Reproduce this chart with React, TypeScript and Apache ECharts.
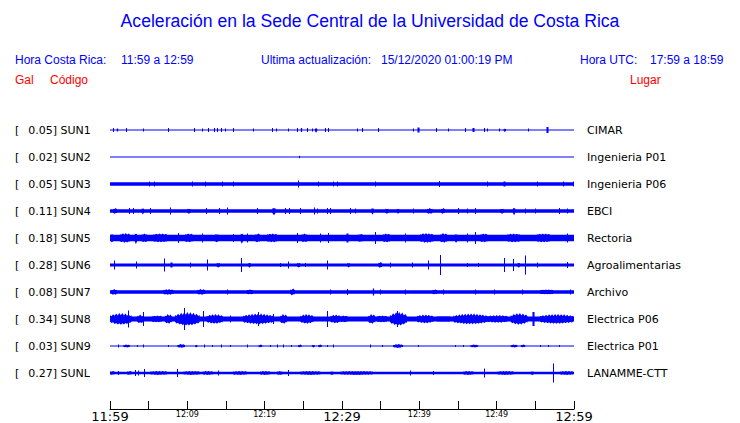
import React, { useEffect, useRef } from "react";
import * as echarts from "echarts";

// ---- data ----
const STATIONS = ["SUN1", "SUN2", "SUN3", "SUN4", "SUN5", "SUN6", "SUN7", "SUN8", "SUN9", "SUNL"];
const PEAKS = ["0.05", "0.02", "0.05", "0.11", "0.18", "0.28", "0.08", "0.34", "0.03", "0.27"];
const PLACES = [
  "CIMAR", "Ingenieria P01", "Ingenieria P06", "EBCI", "Rectoria",
  "Agroalimentarias", "Archivo", "Electrica P06", "Electrica P01", "LANAMME-CTT",
];
const TICK_LABELS = ["11:59", "12:09", "12:19", "12:29", "12:39", "12:49", "12:59"];
// background noise half-amplitude of each trace (1/27 of a trace row)
const BASE_AMP = [0.5, 0.5, 1.8, 1.8, 3.2, 1.6, 1.8, 2.4, 0.5, 1.3];
// events: [start minute, end minute, half-amplitude]
const SUN1_EV = [[0.4,0.4,2],[0.9,1.0,1.5],[2.1,2.1,2],[4.3,4.3,1.5],[7.5,7.5,2],[10.9,10.9,2],[11.9,11.9,1.5],[12.7,12.7,2],[13.5,13.5,2],[13.8,13.8,2],[14.3,14.3,2],[14.9,14.9,1.5],[15.9,15.9,2],[18.5,18.5,1.5],[21.0,21.0,2],[21.5,21.5,1.5],[23.0,23.0,1.5],[24.2,24.2,2],[24.6,24.7,2],[25.5,25.5,2],[26.1,26.1,1.5],[26.5,26.8,3],[27.8,27.8,2],[28.2,28.2,2],[32.0,32.0,1.5],[32.6,32.6,2],[34.7,34.7,2],[39.2,39.2,1.5],[39.7,39.9,2.5],[42.2,42.2,2],[43.7,43.7,1.5],[45.9,45.9,2],[46.8,47.0,2],[48.3,48.3,2],[48.8,48.8,1.5],[50.3,50.3,1.5],[50.9,51.2,2],[54.0,54.0,1.5],[56.4,56.6,3]];
const SUN2_EV = [[24.5,24.5,1.2]];
const SUN3_EV = [[5.1,5.1,2.5],[5.7,5.7,2.5],[10.6,10.6,2.5],[12.3,12.3,2.5],[14.5,14.5,2.5],[15.9,15.9,2.5],[24.3,24.3,3.5],[26.9,26.9,2.5],[28.9,28.9,2.5],[29.4,29.4,2.5],[34.3,34.3,2.5],[42.6,42.6,3],[48.8,48.8,2.5],[50.8,51.0,2.5],[55.2,55.2,2.5],[58.6,58.6,2.5],[59.9,59.9,2.5]];
const SUN4_EV = [[0.4,0.9,3],[2.5,2.5,3],[3.0,3.0,3],[4.1,4.4,3.5],[5.2,5.2,3],[7.8,7.8,3.5],[10.0,10.4,3],[12.4,12.4,3],[14.1,14.1,3],[15.1,15.1,3.5],[19.0,19.0,3],[21.0,21.4,4.5],[22.6,22.6,3],[23.2,23.2,3],[24.6,24.6,3],[26.4,26.4,3.5],[26.8,26.8,2.5],[28.1,28.1,3],[28.5,28.5,3],[31.0,31.0,3],[31.7,31.7,2.5],[33.8,34.1,4],[35.6,36.0,3],[37.1,37.4,3],[39.2,39.2,2.5],[41.0,41.7,3],[42.8,43.3,3],[45.0,45.0,3],[46.2,46.2,2.5],[47.2,47.2,3],[50.5,50.9,3],[52.1,52.4,4.5],[53.7,53.7,2.5],[54.9,54.9,2.5],[58.0,58.0,3],[59.1,59.1,2.5]];
const SUN5_EV = [[0.1,0.4,4.5],[1.3,2.6,5],[3.2,3.5,6.5],[4.1,4.8,4.5],[5.6,7.4,4.5],[8.8,8.8,5],[9.7,10.7,4.5],[11.9,11.9,4.5],[13.6,14.0,4.5],[15.9,15.9,4],[16.9,17.2,6],[17.7,17.7,4.5],[18.8,19.4,4.5],[20.3,21.6,4.5],[24.2,24.2,5],[24.8,25.5,4.5],[27.2,27.2,4.5],[28.2,28.2,5],[30.6,30.8,4.5],[32.1,32.7,4],[34.3,34.3,6],[35.3,36.2,4.5],[38.2,38.2,4.5],[40.1,41.8,5],[42.7,43.6,5],[44.6,44.9,5],[46.2,46.2,4.5],[47.2,47.2,6],[47.9,48.8,4.5],[51.4,53.0,4.5],[55.2,56.9,4.5],[59.1,59.1,4.5]];
const SUN6_EV = [[0.5,0.5,4.5],[3.3,3.3,3.5],[7.0,7.0,6.5],[7.8,8.0,2.5],[10.3,10.3,2.5],[12.5,12.5,5.5],[13.8,14.2,2.5],[17.0,17.0,7],[17.9,18.2,3],[22.0,22.0,2],[23.0,23.0,3.5],[24.2,24.6,2.5],[25.2,25.2,2],[28.1,28.1,4.5],[30.7,31.0,2.5],[34.7,35.2,3],[36.2,36.2,2.5],[39.0,39.0,2.5],[41.1,41.1,4.5],[42.7,42.7,10],[46.2,46.2,2],[47.6,47.6,2],[51.0,51.0,7],[52.1,52.1,6],[52.7,53.0,3],[53.7,53.7,9.5],[55.2,55.2,2.5],[59.1,59.1,3]];
const SUN7_EV = [[0.2,0.9,3],[6.9,8.2,3],[11.3,12.3,3],[15.1,15.1,2.5],[17.7,18.5,2.5],[23.3,23.9,3.5],[28.5,28.5,2.5],[30.7,30.7,3],[33.9,34.0,3.5],[34.9,34.9,2.5],[38.2,38.2,2.5],[41.7,42.3,2.5],[43.1,43.1,2.5],[47.2,47.2,2.5],[49.6,49.6,2.5],[53.3,53.3,2.5],[55.6,57.3,2.5],[59.5,59.5,2.5]];
const SUN8_EV = [[0.0,2.8,6],[2.3,2.3,8.5],[3.5,4.3,4.5],[4.3,4.3,7],[5.4,6.7,3.5],[7.1,8.0,5],[8.4,11.6,7],[9.6,9.6,11],[12.0,12.0,8],[12.5,14.6,5],[15.5,15.5,3.5],[17.2,21.1,5.5],[19.2,19.2,7],[21.1,21.1,5],[22.0,22.9,5],[24.6,26.3,5],[28.1,28.1,8],[28.5,29.8,4.5],[29.8,30.7,3.5],[33.4,34.3,5],[34.5,35.8,3.5],[36.2,38.4,7],[37.1,37.1,8],[39.7,41.8,4.5],[42.3,44.0,2.5],[44.4,48.8,5.5],[48.8,51.4,4],[51.8,54.0,6],[54.6,54.8,7],[55.6,59.9,5]];
const SUN9_EV = [[1.0,1.0,1.5],[1.7,2.6,1.5],[3.5,3.5,1],[4.3,4.3,1.5],[7.5,7.5,1],[8.7,9.7,2],[11.0,11.3,1.5],[12.2,12.2,1.5],[13.2,13.2,1],[14.4,14.4,1.5],[15.5,15.5,1],[17.7,17.7,1.5],[19.2,19.7,1.5],[20.7,20.7,1],[21.6,21.6,1.5],[22.4,22.4,1.5],[23.4,23.4,1],[24.3,24.8,1.5],[26.1,26.5,1.5],[26.9,27.4,1.5],[28.1,28.1,1],[28.9,28.9,1.5],[33.6,33.6,1.5],[35.2,35.2,1],[36.6,37.9,2],[39.8,39.8,1],[44.6,44.6,1],[45.7,45.7,1],[46.6,47.6,1.5],[51.8,52.7,1.5],[53.1,53.7,1.5],[55.6,55.6,1],[56.7,56.7,1],[58.0,58.0,1]];
const SUNL_EV = [[0.0,0.6,2],[1.0,1.0,2],[2.2,2.8,2],[3.2,3.2,3],[3.6,3.6,2.5],[4.4,4.4,4],[5.2,7.4,2],[8.7,8.7,4],[9.5,11.6,2],[12.0,13.3,2],[14.0,14.0,2.5],[15.9,17.7,2],[19.4,20.7,2],[21.6,22.3,2],[23.0,23.0,3],[24.6,27.2,2],[28.5,28.9,2],[29.8,34.0,2],[38.8,38.8,2.5],[41.8,41.8,2],[45.7,47.0,2],[48.3,48.3,4.5],[50.1,52.2,2],[54.4,54.8,2],[57.3,57.3,9.5],[58.2,59.9,2]];
const EVENTS = [SUN1_EV, SUN2_EV, SUN3_EV, SUN4_EV, SUN5_EV, SUN6_EV, SUN7_EV, SUN8_EV, SUN9_EV, SUNL_EV];
const DURATION = 60;

const BLUE = "#0000ff";
const RED = "#ff0000";
const ROW_UNITS = 27;

export default function App() {
  const ref = useRef<HTMLDivElement>(null);
  useEffect(() => {
    if (!ref.current) return;
    const chart = echarts.init(ref.current, undefined, { renderer: "svg" });

    const data: number[][] = [];
    STATIONS.forEach((_, i) => {
      data.push([i, 0, DURATION, BASE_AMP[i], 0]);
      EVENTS[i].forEach((e) => data.push([i, e[0], e[1], e[2], 1]));
    });

    const renderItem = (params: any, api: any) => {
      const row = api.value(0);
      const t0 = api.value(1);
      const t1 = api.value(2);
      const amp = api.value(3);
      const kind = api.value(4);
      const p0 = api.coord([t0, row]);
      const p1 = api.coord([t1, row]);
      const unit = api.size([0, 1])[1] / ROW_UNITS;
      const a = amp * unit;
      const y = p0[1];
      const b = BASE_AMP[row] * unit;
      if (kind === 0) {
        const h = Math.max(1, 2 * a);
        return { type: "rect", shape: { x: p0[0], y: y - h / 2, width: p1[0] - p0[0], height: h }, style: { fill: BLUE } };
      }
      const w = p1[0] - p0[0];
      if (w < 2) {
        const x = Math.round((p0[0] + p1[0]) / 2) + 0.5;
        return { type: "line", shape: { x1: x, y1: y - a, x2: x, y2: y + a }, style: { stroke: BLUE, lineWidth: Math.max(1, w + 0.5) } };
      }
      // serrated spindle envelope for a burst
      const step = 1.5;
      const n = Math.max(2, Math.round(w / step));
      const top: number[][] = [];
      const bot: number[][] = [];
      for (let k = 0; k <= n; k++) {
        const u = k / n;
        const x = p0[0] + u * w;
        const shape = 1 - Math.pow(Math.abs(2 * u - 1), 2);
        const env = b + (a - b) * (0.35 + 0.65 * shape);
        const serr = k % 2 === 0 ? 1 : 0.62;
        const top_h = Math.max(b, env * serr);
        const bot_h = Math.max(b, env * (k % 2 === 0 ? 0.7 : 0.95));
        top.push([x, y - top_h]);
        bot.push([x, y + bot_h]);
      }
      return {
        type: "polygon",
        shape: { points: top.concat(bot.reverse()) },
        style: { fill: BLUE },
      };
    };

    const font = "DejaVu Sans";
    const hdr = "Liberation Sans";
    chart.setOption({
      animation: false,
      backgroundColor: "#ffffff",
      grid: { left: 110, width: 464, top: 116.5, height: 270 },
      xAxis: {
        type: "value",
        min: 0,
        max: DURATION,
        interval: 5,
        offset: 22.5,
        splitLine: { show: false },
        axisLine: { show: true, lineStyle: { color: "#000", width: 1 } },
        axisTick: { show: true, inside: true, length: 8, lineStyle: { color: "#000" } },
        axisLabel: {
          margin: 1,
          showMinLabel: true,
          showMaxLabel: true,
          hideOverlap: false,
          formatter: (v: number) => {
            if (v % 10 !== 0) return "";
            const lbl = TICK_LABELS[v / 10];
            return v % 30 === 0 ? `{big|${lbl}}` : `{small|${lbl}}`;
          },
          rich: {
            big: { fontFamily: font, fontSize: 13, color: "#000", letterSpacing: 0.5 },
            small: { fontFamily: font, fontSize: 8, color: "#000" },
          },
        },
      },
      yAxis: [
        {
          type: "category",
          data: STATIONS,
          inverse: true,
          position: "left",
          axisLine: { show: false },
          axisTick: { show: false },
          splitLine: { show: false },
          axisLabel: {
            align: "left",
            margin: 95,
            fontFamily: font,
            fontSize: 11,
            color: "#000",
            formatter: (v: string, i: number) => `{b|[}{v|${PEAKS[i]}] ${v}}`,
            rich: {
              b: { fontFamily: font, fontSize: 11, color: "#000" },
              v: { fontFamily: font, fontSize: 11, color: "#000", padding: [0, 0, 0, 9] },
            },
          },
        },
        {
          type: "category",
          data: PLACES,
          inverse: true,
          position: "right",
          axisLine: { show: false },
          axisTick: { show: false },
          splitLine: { show: false },
          axisLabel: { align: "left", margin: 13, fontFamily: font, fontSize: 11, color: "#000" },
        },
      ],
      series: [
        {
          type: "custom",
          renderItem,
          data,
          encode: { x: [1, 2], y: 0 },
          clip: false,
          silent: true,
        },
      ],
      graphic: [
        { type: "text", left: "center", top: 12, style: { text: "Aceleración en la Sede Central de la Universidad de Costa Rica", fontFamily: hdr, fontSize: 17.6, fill: BLUE } },
        { type: "text", x: 15, y: 54, style: { text: "Hora Costa Rica:", fontFamily: hdr, fontSize: 12, fill: BLUE } },
        { type: "text", x: 121, y: 54, style: { text: "11:59 a 12:59", fontFamily: hdr, fontSize: 12, fill: BLUE } },
        { type: "text", x: 261, y: 54, style: { text: "Ultima actualización:", fontFamily: hdr, fontSize: 12, fill: BLUE } },
        { type: "text", x: 381, y: 54, style: { text: "15/12/2020 01:00:19 PM", fontFamily: hdr, fontSize: 12, fill: BLUE } },
        { type: "text", x: 580, y: 54, style: { text: "Hora UTC:", fontFamily: hdr, fontSize: 12, fill: BLUE } },
        { type: "text", x: 650, y: 54, style: { text: "17:59 a 18:59", fontFamily: hdr, fontSize: 12, fill: BLUE } },
        { type: "text", x: 15, y: 74, style: { text: "Gal", fontFamily: hdr, fontSize: 12, fill: RED } },
        { type: "text", x: 50, y: 74, style: { text: "Código", fontFamily: hdr, fontSize: 12, fill: RED } },
        { type: "text", x: 630, y: 74, style: { text: "Lugar", fontFamily: hdr, fontSize: 12, fill: RED } },
      ],
    });
    return () => chart.dispose();
  }, []);
  return <div ref={ref} style={{ position: "absolute", left: 0, top: 0, width: 740, height: 423 }} />;
}
